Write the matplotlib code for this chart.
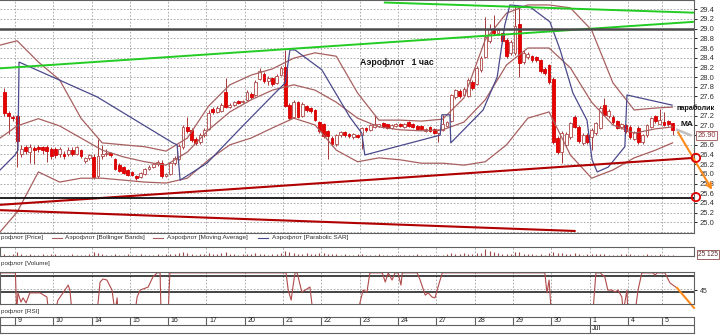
import matplotlib.pyplot as plt
from matplotlib.patches import Rectangle, Ellipse
from matplotlib.lines import Line2D
import numpy as np

plt.rcParams['font.family'] = ['Liberation Sans', 'DejaVu Sans']

# hourly bars, index 0 = first bar of the 9th
first_bar = -3
opens = [27.70, 27.25, 27.18,
         27.20, 26.42, 26.56, 26.45, 26.54, 26.55, 26.55, 26.56, 26.52,
         26.52, 26.40, 26.42, 26.40, 26.50, 26.42, 26.50, 26.26, 26.32,
         26.34, 25.96, 26.36, 26.40, 26.44, 26.30, 26.18, 26.14, 26.08,
         26.04, 25.96, 25.94, 26.00, 26.10, 26.15, 26.20, 26.22, 25.96,
         26.00, 26.22, 26.30, 26.56, 26.96, 26.90, 26.72, 26.66, 26.80,
         26.92, 27.34, 27.28, 27.30, 27.70, 27.38, 27.42, 27.50, 27.48,
         27.53, 27.66, 27.62, 27.96, 28.06, 27.92, 27.98, 27.88, 28.04,
         28.20, 27.42, 27.18, 27.48, 27.20, 27.40, 27.36, 27.32, 27.08,
         27.04, 26.88, 26.74, 26.62, 26.80, 26.86, 26.82, 26.76, 26.80,
         26.80, 26.94, 26.90, 26.96, 26.98, 27.06, 27.02, 26.94, 26.98,
         27.04, 26.96, 27.08, 27.04, 26.98, 26.98, 26.88, 26.96, 26.92,
         26.84, 26.90, 26.98, 27.10, 27.58, 27.72, 27.62, 27.60, 27.90,
         27.86, 28.14, 28.42, 28.74, 29.00, 28.90, 28.90, 28.76, 28.50,
         28.50, 29.10, 28.32, 28.42, 28.44, 28.42, 28.36, 28.16, 28.24,
         27.96, 26.74, 26.45, 26.60, 26.76, 27.18, 26.97, 26.64, 26.80,
         26.77, 26.84, 26.95, 27.42, 27.20, 27.18, 27.10, 26.96, 27.00,
         26.97, 26.72, 26.95, 26.66, 26.80, 26.96, 27.20, 27.04,
         27.07, 27.10, 27.05]
closes = [27.25, 27.20, 27.15,
          26.68, 26.52, 26.48, 26.56, 26.50, 26.52, 26.50, 26.48, 26.36,
          26.38, 26.52, 26.36, 26.50, 26.40, 26.55, 26.36, 26.32, 26.38,
          25.94, 26.36, 26.42, 26.44, 26.38, 26.10, 26.06, 26.02, 25.98,
          25.98, 25.92, 26.02, 26.10, 26.15, 26.20, 26.24, 25.95, 25.99,
          26.22, 26.32, 26.58, 26.96, 26.88, 26.70, 26.64, 26.80, 26.90,
          27.26, 27.28, 27.36, 27.42, 27.39, 27.43, 27.48, 27.46, 27.50,
          27.70, 27.58, 27.90, 28.12, 27.92, 27.98, 27.86, 28.02, 28.18,
          27.40, 27.16, 27.48, 27.18, 27.44, 27.32, 27.30, 27.12, 26.88,
          26.78, 26.78, 26.62, 26.80, 26.86, 26.80, 26.78, 26.82, 26.76,
          26.94, 26.90, 27.00, 27.02, 27.02, 26.96, 26.94, 27.00, 27.04,
          26.98, 27.04, 26.98, 26.96, 26.92, 26.92, 26.92, 26.88, 26.84,
          26.90, 27.02, 27.07, 27.62, 27.73, 27.60, 27.76, 27.94, 27.78,
          28.18, 28.40, 28.82, 29.00, 28.90, 28.98, 28.74, 28.44, 28.72,
          29.05, 28.30, 28.50, 28.48, 28.36, 28.36, 28.12, 28.08, 27.90,
          26.66, 26.45, 26.84, 26.82, 27.05, 26.97, 26.67, 26.80, 26.66,
          26.91, 27.05, 27.36, 27.22, 27.30, 27.07, 26.95, 27.04, 26.88,
          26.76, 26.86, 26.66, 26.80, 27.00, 27.15, 27.10, 27.12,
          27.00, 27.02, 26.90]
highs = [27.78, 27.30, 27.22,
         27.22, 26.60, 26.60, 26.62, 26.58, 26.60, 26.58, 26.60, 26.55,
         26.56, 26.56, 26.48, 26.55, 26.56, 26.58, 26.52, 26.34, 26.42,
         26.40, 26.72, 26.60, 26.52, 26.46, 26.32, 26.22, 26.16, 26.10,
         26.06, 25.98, 26.04, 26.12, 26.18, 26.22, 26.28, 26.28, 26.02,
         26.25, 26.36, 26.62, 27.00, 27.17, 26.94, 26.76, 26.84, 26.95,
         27.32, 27.38, 27.40, 27.46, 27.98, 27.46, 27.50, 27.52, 27.52,
         27.74, 27.70, 27.94, 28.18, 28.10, 28.02, 28.00, 28.06, 28.22,
         28.56, 27.46, 27.52, 27.50, 27.48, 27.42, 27.38, 27.34, 27.10,
         27.06, 26.90, 26.78, 26.82, 26.88, 26.88, 26.84, 26.84, 26.82,
         26.96, 26.96, 27.02, 27.22, 27.04, 27.08, 27.04, 27.02, 27.06,
         27.06, 27.06, 27.10, 27.06, 27.00, 27.00, 26.94, 26.98, 26.94,
         26.92, 27.22, 27.10, 27.66, 27.76, 27.75, 27.80, 27.98, 27.94,
         28.22, 28.44, 29.24, 29.10, 29.28, 29.02, 28.92, 28.80, 28.76,
         29.49, 29.45, 28.55, 28.52, 28.46, 28.44, 28.38, 28.20, 28.26,
         28.00, 26.78, 26.88, 26.86, 27.08, 27.22, 27.00, 26.84, 26.84,
         26.94, 27.08, 27.40, 27.57, 27.34, 27.22, 27.12, 27.06, 27.02,
         27.00, 26.88, 26.98, 26.82, 27.02, 27.18, 27.22, 27.35,
         27.28, 27.12, 27.06]
lows = [27.20, 26.82, 27.10,
        26.15, 26.35, 26.40, 26.22, 26.20, 26.45, 26.40, 26.25, 26.30,
        26.32, 26.35, 26.30, 26.36, 26.36, 26.38, 26.32, 26.22, 26.28,
        25.90, 25.92, 26.30, 26.36, 26.34, 26.08, 26.03, 26.00, 25.96,
        25.95, 25.88, 25.92, 25.98, 26.08, 26.12, 26.16, 25.92, 25.94,
        25.98, 26.18, 26.28, 26.52, 26.85, 26.66, 26.60, 26.62, 26.76,
        26.90, 27.24, 27.26, 27.28, 27.36, 27.36, 27.40, 27.44, 27.46,
        27.50, 27.55, 27.60, 27.94, 27.88, 27.84, 27.82, 27.86, 28.02,
        27.38, 27.12, 27.15, 27.15, 27.18, 27.28, 27.26, 27.10, 26.85,
        26.74, 26.30, 26.58, 26.58, 26.76, 26.76, 26.74, 26.72, 26.74,
        26.52, 26.86, 26.88, 26.94, 26.96, 26.94, 26.92, 26.92, 26.96,
        26.96, 26.94, 26.96, 26.94, 26.90, 26.90, 26.86, 26.86, 26.82,
        26.66, 26.88, 26.96, 27.08, 27.55, 27.56, 27.60, 27.58, 27.74,
        27.84, 28.10, 28.40, 28.70, 28.86, 28.86, 28.70, 28.40, 28.46,
        28.45, 28.00, 28.28, 28.38, 28.32, 28.32, 28.08, 28.04, 27.86,
        26.62, 26.40, 26.22, 26.55, 26.72, 26.94, 26.64, 26.60, 26.62,
        26.50, 26.80, 26.92, 27.20, 27.16, 27.04, 26.92, 26.92, 26.85,
        26.72, 26.70, 26.62, 26.62, 26.76, 26.94, 27.06, 27.02,
        26.98, 26.98, 26.80]
volumes = [2, 1, 2,
           5, 2, 1, 2, 1, 1, 2, 1, 2,
           2, 1, 1, 1, 2, 1, 1, 1, 2,
           4, 3, 2, 1, 1, 2, 1, 1, 2,
           1, 1, 2, 1, 1, 1, 2, 1, 2,
           2, 2, 3, 4, 3, 2, 1, 2, 2,
           3, 2, 2, 3, 4, 2, 2, 1, 2,
           2, 2, 3, 2, 2, 1, 2, 2, 3,
           6, 4, 3, 2, 2, 3, 2, 2, 3,
           3, 2, 2, 2, 1, 2, 1, 1, 2,
           2, 1, 1, 1, 2, 1, 1, 1, 1,
           1, 1, 1, 1, 2, 1, 1, 1, 1,
           1, 1, 2, 3, 2, 2, 3, 2, 2,
           3, 3, 8, 6, 4, 3, 2, 2, 2,
           5, 4, 2, 2, 2, 1, 2, 1, 3,
           4, 3, 3, 2, 2, 3, 2, 1, 2,
           2, 2, 2, 2, 1, 1, 1, 2, 2,
           2, 1, 1, 1, 2, 1, 1, 2,
           1, 1, 1]

day_start = [0, 9, 18, 27, 36, 45, 54, 63, 72, 81, 90, 99, 108, 117, 126, 135, 144, 152]
day_names = ['9', '10', '14', '15', '16', '17', '20', '21', '22', '23', '24', '27',
             '28', '29', '30', '1', '4', '5']

# Bollinger bands / moving average
band_x = [-4, 0, 5, 10, 15, 20, 25, 30, 35, 40, 45, 50, 55, 60, 65, 70, 75, 80, 85,
          90, 95, 100, 105, 110, 115, 120, 125, 130, 135, 140, 145, 150, 154]
band_up = [28.66, 28.75, 28.31, 27.94, 27.15, 26.64, 26.60, 26.56, 26.47, 26.74, 27.40,
           27.84, 28.04, 28.17, 28.39, 28.50, 28.43, 27.67, 27.11, 27.11, 27.09, 27.13,
           27.57, 28.77, 29.32, 29.49, 29.49, 29.43, 28.97, 27.88, 27.32, 27.36, 27.38]
band_mid = [26.74, 26.99, 27.14, 26.99, 26.74, 26.49, 26.35, 26.25, 26.18, 26.45, 26.91,
            27.28, 27.53, 27.73, 27.84, 27.73, 27.48, 27.15, 26.97, 26.91, 26.89, 26.91,
            27.07, 27.53, 28.25, 28.60, 28.60, 28.19, 27.48, 27.01, 26.84, 26.93, 26.97]
band_low = [24.80, 25.21, 26.04, 25.83, 25.91, 25.91, 25.87, 25.83, 25.81, 25.91, 26.29,
            26.60, 26.74, 26.95, 27.15, 27.01, 26.49, 26.25, 26.33, 26.29, 26.22, 26.22,
            26.18, 26.25, 26.60, 27.15, 27.28, 26.39, 25.91, 26.08, 26.33, 26.49, 26.64]

# Parabolic SAR
sar_x = [-4.0, -0.5, 0.2, 0.45, 18.8, 36.6, 37.6, 38.3, 44.6, 52.8, 60.6, 63.0, 64.1,
         65.3, 71.6, 78.2, 81.0, 81.7, 99.4, 99.8, 101.7, 101.9, 109.5, 112.8, 114.6,
         115.8, 120.5, 125.2, 127.6, 130.6, 133.9, 135.1, 136.3, 138.9, 142.8, 143.3, 153.9]
sar_y = [26.08, 26.39, 26.49, 28.31, 27.59, 26.64, 26.60, 25.87, 26.22, 26.97, 27.67,
         27.88, 28.56, 28.56, 28.15, 27.17, 26.84, 26.39, 26.80, 27.22, 27.22, 26.64,
         27.32, 28.00, 29.08, 29.49, 29.45, 29.14, 28.56, 27.67, 27.11, 26.29, 26.04,
         26.14, 26.56, 27.63, 27.42]

# RSI (values beyond the panel are clipped)
rsi_x = [-4.0, -0.4, -0.1, 0.2, 0.9, 1.4, 2.1, 3.0, 3.7, 5.4, 7.0, 7.4, 8.9, 9.6, 10.8,
         12.0, 12.4, 12.9, 18.8, 19.5, 20.2, 21.1, 22.3, 23.0, 23.5, 23.7, 27.7, 28.2,
         28.9, 29.6, 30.8, 31.9, 32.9, 33.6, 33.8, 35.5, 35.9, 63.2, 63.7, 64.4, 64.8,
         65.3, 65.8, 66.9, 67.7, 68.8, 69.5, 80.1, 80.6, 81.3, 82.2, 82.9, 85.8, 86.5,
         87.2, 88.1, 88.8, 89.5, 90.2, 90.5, 94.0, 94.7, 95.9, 96.6, 97.5, 98.2, 98.9,
         99.9, 124.0, 124.5, 125.0, 125.5, 135.3, 136.0, 137.0, 138.1, 138.8, 139.8,
         140.5, 141.2, 142.1, 142.4, 143.3, 143.5, 145.2, 145.9, 146.8, 149.4, 149.9,
         150.4, 152.2, 153.4, 155.0]
rsi_v = [52.2, 52.2, 38, 45.0, 41.7, 43.2, 41.4, 45.0, 45.0, 45.0, 43.5, 38, 38, 42.4,
         45.0, 47.8, 46.0, 38, 38, 48.9, 50.0, 49.6, 46.0, 38, 43.2, 38, 38, 43.5, 46.0,
         46.4, 47.1, 50.7, 52.2, 52.2, 38, 38, 52.2, 52.2, 46.0, 42.4, 47.1, 52.2, 52.2,
         45.3, 46.0, 47.1, 38, 38, 41.7, 46.0, 45.3, 52.2, 52.2, 48.9, 52.2, 49.6, 52.2,
         52.2, 47.8, 52.2, 52.2, 49.6, 44.2, 45.0, 43.5, 43.2, 47.1, 52.2, 52.2, 45.0,
         49.6, 38, 38, 52.2, 52.2, 50.7, 46.0, 46.0, 45.3, 46.0, 43.5, 38, 46.0, 38, 38,
         46.0, 52.2, 52.2, 51.4, 52.2, 52.2, 48.6, 46.8]

# trend lines drawn by hand on the chart
green_hi_x, green_hi_y = [86.4, 159.05], [29.54, 29.33]
green_lo_x, green_lo_y = [-4.02, 158.8], [28.18, 29.14]
red_hi_x, red_hi_y = [-4.02, 159.05], [25.36, 26.33]
red_lo_x, red_lo_y = [-4.02, 131.0], [25.25, 24.82]
level_hi, level_lo = 29.0, 25.5

W, H = 720, 336
XL = (-4.02, 159.05)
BROWN = '#a86060'
NAVY = '#4a4a8c'
GRID = dict(color='#a0a0a0', lw=0.6, ls=(0, (2, 2)))


def box(top, bottom):
    return [0, 1 - bottom / H, 694 / W, (bottom - top) / H]


fig = plt.figure(figsize=(7.2, 3.36), dpi=100)
ax = fig.add_axes(box(0, 233))
axv = fig.add_axes(box(247, 256))
axr = fig.add_axes(box(272, 304))
axd = fig.add_axes(box(317, 333))

seps = [s - 0.5 for s in day_start]
for a in (ax, axv, axr, axd):
    a.set_xlim(*XL)
    a.set_xticks([])
    for s in a.spines.values():
        s.set_color('#606060')
        s.set_linewidth(0.8)
for a in (ax, axv, axr):
    for s in seps:
        a.axvline(s, zorder=0, **GRID)

# ---- main price panel
ax.set_ylim(24.778, 29.592)
levels = np.round(np.arange(24.8, 29.41, 0.2), 1)
for lv in levels:
    ax.axhline(lv, zorder=0, **GRID)
ax.yaxis.tick_right()
ax.set_yticks(levels[1:])
# 27.4 and 26.8 sit under the "параболик" note and the last-price box
ax.set_yticklabels(['' if v in (27.4, 26.8) else '%.1f' % v for v in levels[1:]],
                   fontsize=5.5, color='#303030')
ax.tick_params(axis='y', length=2.5, pad=1.5, width=0.6)
ax.spines['left'].set_visible(False)

for i, (o, h, l, c) in enumerate(zip(opens, highs, lows, closes)):
    x = first_bar + i
    up = c >= o
    ax.vlines(x, l, h, color='#a83838', lw=0.7, zorder=2)
    ax.add_patch(Rectangle((x - 0.33, min(o, c)), 0.66, max(abs(c - o), 0.012),
                           facecolor='white' if up else '#e80000',
                           edgecolor='#b04848' if up else '#d40000', lw=0.6, zorder=3))

ax.plot(band_x, band_up, color=BROWN, lw=0.9, zorder=4)
ax.plot(band_x, band_mid, color=BROWN, lw=0.9, zorder=4)
ax.plot(band_x, band_low, color=BROWN, lw=0.9, zorder=4)
ax.plot(sar_x, sar_y, color=NAVY, lw=0.9, zorder=4)

ax.plot(green_hi_x, green_hi_y, color='#22cc22', lw=1.4, zorder=5)
ax.plot(green_lo_x, green_lo_y, color='#22cc22', lw=1.4, zorder=5)
ax.plot(red_hi_x, red_hi_y, color='#b00000', lw=1.5, zorder=5)
ax.plot(red_lo_x, red_lo_y, color='#b00000', lw=1.5, zorder=5)
ax.axhline(level_hi, color='#4a4a4a', lw=1.8, zorder=5)
ax.axhline(level_lo, color='#111111', lw=1.3, zorder=5)

# forecast marks
ax.plot([155.1, 158.2], [26.91, 26.80], color='#c0c0c0', lw=1.8, zorder=6, clip_on=False)
ax.annotate('', xy=(163.3, 25.67), xytext=(155.3, 26.86), annotation_clip=False,
            arrowprops=dict(arrowstyle='->', color='#ff8a1a', lw=1.5,
                            mutation_scale=9, shrinkA=0, shrinkB=0), zorder=7)
for py in (26.33, 25.52):
    ax.add_patch(Ellipse((159.5, py), 2.0, 0.17, facecolor='none', edgecolor='#e00000',
                         lw=1.3, clip_on=False, zorder=7))

ax.text(89.3, 28.31, 'Аэрофлот   1 час', fontsize=6.3, fontweight='bold', ha='center',
        va='center', color='#111111', zorder=8)
ax.text(155.05, 27.36, 'параболик', fontsize=5.2, fontweight='bold', ha='left',
        va='center', color='#111111', zorder=8)
ax.text(155.8, 27.03, 'MA', fontsize=6, fontweight='bold', ha='left', va='center',
        color='#111111', zorder=8)
ax.text(1.005, 26.80, '26.90', transform=ax.get_yaxis_transform(), fontsize=5.3,
        color='#8a3a3a', va='center', ha='left',
        bbox=dict(boxstyle='square,pad=0.15', facecolor='white', edgecolor='#a05050', lw=0.6))

# ---- volume panel
axv.set_ylim(0, 10)
axv.set_yticks([])
axv.vlines([first_bar + i for i in range(len(volumes))], 0, volumes, color='#a04848', lw=0.8)
fig.text(698 / W, 1 - 254.5 / H, '25 125', fontsize=4.7, color='#5a2a2a', va='center',
         bbox=dict(boxstyle='square,pad=0.15', facecolor='white', edgecolor='#904848', lw=0.6))

# ---- RSI panel
axr.set_ylim(41, 52.5)
axr.axhline(51.1, color='#111111', lw=1.1)
axr.axhline(45.3, color='#111111', lw=1.1)
axr.axhline(46.4, zorder=0, **GRID)
axr.plot(rsi_x, rsi_v, color='#b04a4a', lw=0.8)
axr.plot([155.05, 159.05], [46.8, 39.6], color='#ff8a1a', lw=1.5, clip_on=False)
axr.yaxis.tick_right()
axr.set_yticks([46.0])
axr.set_yticklabels(['45'], fontsize=5, color='#303030')
axr.tick_params(axis='y', length=2.5, pad=1.5, width=0.6)

# ---- date axis
axd.set_ylim(0, 2)
axd.set_yticks([])
axd.axhline(1, color='#606060', lw=0.8)
for s, name in zip(seps, day_names):
    axd.plot([s, s], [1 if name != '1' else 0, 2], color='#606060', lw=0.8)
    axd.text(s + 0.6, 1.5, name, fontsize=5, va='center', ha='left', color='#202020')
axd.text(seps[day_names.index('1')] + 0.6, 0.5, 'Jul', fontsize=5, va='center',
         ha='left', color='#202020')

# ---- legend row and panel captions (left edge of the screenshot is cropped)
lab = dict(fontsize=4.6, color='#303030', va='center', ha='left')
fig.text(1 / W, 1 - 238 / H, 'рофлот [Price]', **lab)
fig.text(65 / W, 1 - 238 / H, 'Аэрофлот [Bollinger Bands]', **lab)
fig.text(167 / W, 1 - 238 / H, 'Аэрофлот [Moving Average]', **lab)
fig.text(272 / W, 1 - 238 / H, 'Аэрофлот [Parabolic SAR]', **lab)
for x0, col in ((52, BROWN), (153, BROWN), (258, NAVY)):
    fig.add_artist(Line2D([x0 / W, (x0 + 10) / W], [1 - 238 / H] * 2, color=col, lw=0.8))
fig.text(1 / W, 1 - 264 / H, 'рофлот [Volume]', **lab)
fig.text(1 / W, 1 - 311.5 / H, 'рофлот [RSI]', **lab)

fig.savefig('out.png', dpi=100)
